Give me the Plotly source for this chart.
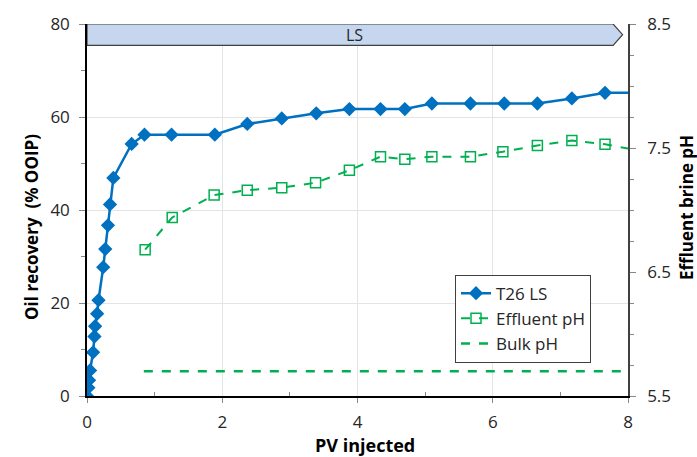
import plotly.graph_objects as go

# T26 LS oil recovery (% OOIP) vs PV injected
pv_rec = [0, 0.02, 0.03, 0.045, 0.09, 0.11, 0.12, 0.15, 0.17, 0.24, 0.27, 0.31, 0.34,
          0.39, 0.66, 0.85, 1.25, 1.89, 2.37, 2.88, 3.39, 3.88, 4.34, 4.70, 5.10,
          5.67, 6.17, 6.66, 7.17, 7.66, 8.16]
recovery = [0, 1.8, 3.4, 5.5, 9.4, 12.8, 15.0, 17.7, 20.6, 27.7, 31.6, 36.7, 41.2,
            46.9, 54.2, 56.2, 56.2, 56.2, 58.5, 59.7, 60.8, 61.7, 61.7, 61.7, 62.9,
            62.9, 62.9, 62.9, 64.0, 65.2, 65.2]

# Effluent pH vs PV injected
pv_ph = [0.86, 1.26, 1.88, 2.37, 2.88, 3.38, 3.88, 4.34, 4.70, 5.10, 5.67, 6.15,
         6.66, 7.17, 7.66, 8.16]
effluent_ph = [6.68, 6.94, 7.12, 7.16, 7.18, 7.22, 7.32, 7.43, 7.41, 7.43, 7.43,
               7.47, 7.52, 7.56, 7.53, 7.48]

# Bulk pH
pv_bulk = [0.84, 8.2]
bulk_ph = [5.70, 5.70]

BLUE = "#0070C0"
GREEN = "#00B050"
FONT = "Open Sans"
TXT = "#262626"

fig = go.Figure()
fig.add_trace(go.Scatter(x=pv_rec, y=recovery, name="T26 LS", mode="lines+markers",
                         line=dict(color=BLUE, width=2.5),
                         marker=dict(symbol="diamond", size=11, color=BLUE)))
fig.add_trace(go.Scatter(x=pv_ph, y=effluent_ph, name="Effluent pH", yaxis="y2",
                         mode="lines+markers",
                         line=dict(color=GREEN, width=2, dash="dash"),
                         marker=dict(symbol="square-open", size=10, color=GREEN,
                                     line=dict(width=1.5))))
fig.add_trace(go.Scatter(x=pv_bulk, y=bulk_ph, name="Bulk pH", yaxis="y2", mode="lines",
                         line=dict(color=GREEN, width=2.5, dash="dash")))

# LS band arrow at top
fig.add_shape(type="path", xref="x", yref="y",
              path="M 0,80 L 7.78,80 L 7.92,77.7 L 7.78,75.4 L 0,75.4 Z",
              fillcolor="#C5D6EE", line=dict(color="#404040", width=1.2), layer="above")
fig.add_annotation(x=3.96, y=77.7, xref="x", yref="y", text="LS", showarrow=False,
                   font=dict(family=FONT, size=16, color=TXT))

# axis titles as annotations
fig.add_annotation(text="<b>PV injected</b>", xref="paper", yref="paper",
                   x=(365 - 87) / 541, y=-(445 - 396) / 374, showarrow=False,
                   xanchor="center", yanchor="middle",
                   font=dict(family=FONT, size=18, color="black"))
fig.add_annotation(text="<b>Oil recovery  (% OOIP)</b>", xref="paper", yref="paper",
                   x=-(87 - 32) / 541, y=(396 - 226) / 374, showarrow=False, textangle=-90,
                   xanchor="center", yanchor="middle",
                   font=dict(family=FONT, size=17, color="black"))
fig.add_annotation(text="<b>Effluent brine pH</b>", xref="paper", yref="paper",
                   x=(686 - 87) / 541, y=(396 - 207) / 374, showarrow=False, textangle=-90,
                   xanchor="center", yanchor="middle",
                   font=dict(family=FONT, size=17, color="black"))

fig.update_layout(
    width=697, height=457,
    margin=dict(l=87, r=69, t=22, b=61),
    plot_bgcolor="white", paper_bgcolor="white",
    font=dict(family=FONT, size=17, color=TXT),
    showlegend=True,
    legend=dict(x=(455 - 87) / 541, y=(396 - 274) / 374, xanchor="left", yanchor="top",
                bgcolor="white", bordercolor="#404040", borderwidth=1,
                font=dict(family=FONT, size=17, color=TXT)),
    xaxis=dict(range=[0, 8], tickvals=[0, 2, 4, 6, 8], showgrid=True, gridcolor="#E4E4E4",
               showline=True, linecolor="black", linewidth=1.5, ticks="outside",
               ticklen=5, tickcolor="#888", zeroline=False, ticklabelstandoff=5,
               minor=dict(tickvals=[1, 3, 5, 7], ticks="inside", ticklen=4, tickcolor="#888",
                          showgrid=False)),
    yaxis=dict(range=[0, 80], tickvals=[0, 20, 40, 60, 80], showgrid=True, gridcolor="#E4E4E4",
               showline=True, linecolor="black", linewidth=1.5, ticks="outside",
               ticklen=6, tickcolor="#888", zeroline=False, ticklabelstandoff=6,
               minor=dict(tickvals=[10, 30, 50, 70], ticks="outside", ticklen=4,
                          tickcolor="#888", showgrid=False)),
    yaxis2=dict(range=[5.5, 8.5], overlaying="y", side="right",
                tickvals=[5.5, 6.5, 7.5, 8.5], ticktext=["5.5", "6.5", "7.5", "8.5"],
                showgrid=False, showline=True, linecolor="#404040", linewidth=1.5,
                ticks="outside", ticklen=6, tickcolor="#888", zeroline=False,
                ticklabelstandoff=8,
                minor=dict(tickvals=[5.75, 6.0, 6.25, 6.75, 7.0, 7.25, 7.75, 8.0, 8.25],
                           ticks="outside", ticklen=4, tickcolor="#888", showgrid=False)),
)

fig.write_html("out.html")
